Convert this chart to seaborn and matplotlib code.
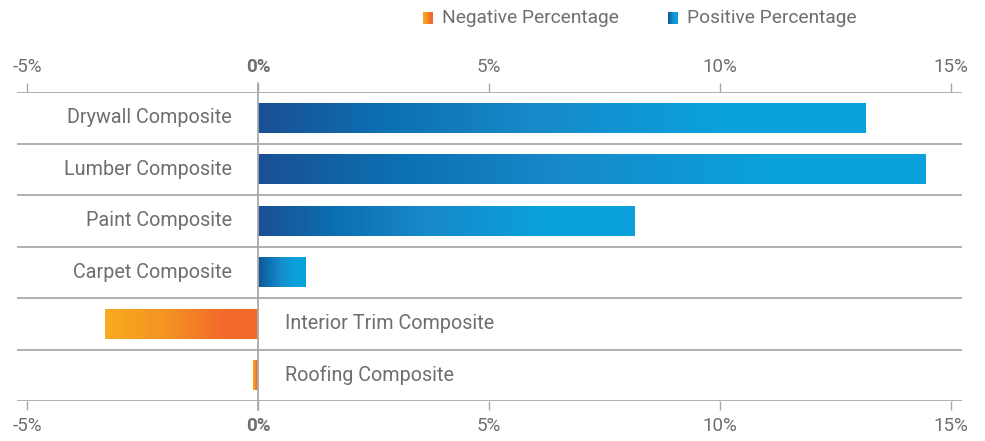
import numpy as np
import pandas as pd
import seaborn as sns
import matplotlib.pyplot as plt
from matplotlib.colors import LinearSegmentedColormap
from matplotlib.patches import Rectangle

categories = ["Drywall Composite", "Lumber Composite", "Paint Composite",
              "Carpet Composite", "Interior Trim Composite", "Roofing Composite"]
values = [13.14, 14.44, 8.14, 1.02, -3.31, -0.10]
tick_vals = [-5, 0, 5, 10, 15]
tick_labels = ["-5%", "0%", "5%", "10%", "15%"]

df = pd.DataFrame({"category": categories, "value": values})

grey = "#6d6e71"
line_grey = "#a7a9ac"
blue_cm = LinearSegmentedColormap.from_list(
    "blue", [(0, "#1b4f95"), (0.2, "#0b6fb0"), (0.45, "#1889c9"), (0.75, "#0aa0dc"), (1, "#0ba1dc")])
orange_cm = LinearSegmentedColormap.from_list(
    "orange", [(0, "#f26a2a"), (0.22, "#f26a2a"), (0.6, "#f59224"), (1, "#f8ac1e")])

sns.set_style("white")
plt.rcParams['font.family'] = ['Roboto', 'DejaVu Sans']
fs = 14.2

fig = plt.figure(figsize=(9.85, 4.41), dpi=100)
ax = fig.add_axes([17/985, 40/441, 945/985, 309/441])

sns.barplot(data=df, x="value", y="category", orient="h", ax=ax, width=0.58, color="white")

# swap the flat bars for gradients
grad = np.linspace(0, 1, 256).reshape(1, -1)
for bar, v in zip(ax.patches, values):
    x0, y0 = bar.get_x(), bar.get_y()
    w, h = bar.get_width(), bar.get_height()
    bar.set_visible(False)
    cmap = blue_cm if v >= 0 else orange_cm
    img = ax.imshow(grad, cmap=cmap, aspect="auto",
                    extent=[x0, x0 + w, y0 + h, y0], zorder=3)
    img.set_clip_path(Rectangle((x0, y0), w, h, transform=ax.transData))

ax.set_xlim(-5.216, 15.24)
ax.set_ylim(5.5, -0.5)

for y in np.arange(-0.5, 6.0, 1.0):
    ax.axhline(y, color=line_grey, lw=1.3, zorder=1)
ax.plot([0, 0], [-0.68, 5.68], color=line_grey, lw=1.3, zorder=4, clip_on=False)

for i, (c, v) in enumerate(zip(categories, values)):
    if v >= 0:
        ax.text(-0.56, i, c, ha="right", va="center", fontsize=fs, color=grey)
    else:
        ax.text(0.58, i, c, ha="left", va="center", fontsize=fs, color=grey)

ax.set_yticks([])
ax.set_ylabel("")
ax.set_xlabel("")
ax.set_xticks(tick_vals)
ax.set_xticklabels(tick_labels)
ax.tick_params(axis="x", top=True, labeltop=True, bottom=True, labelbottom=True,
               direction="out", length=6.5, width=1, color=line_grey,
               labelsize=13.5, labelcolor=grey, pad=5)
for lab in ax.get_xticklabels():
    if lab.get_text() == "0%":
        lab.set_fontweight("bold")
sns.despine(ax=ax, left=True, bottom=True, top=True, right=True)

# legend
def legend_item(x, cmap, reverse, text):
    lax = fig.add_axes([x/985, 1 - 24/441, 10/985, 12/441])
    g = grad[:, ::-1] if reverse else grad
    lax.imshow(g, cmap=cmap, aspect="auto")
    lax.axis("off")
    fig.text((x + 19)/985, 1 - 18/441, text, ha="left", va="center", fontsize=13.8, color=grey)

legend_item(423, orange_cm, True, "Negative Percentage")
legend_item(668, blue_cm, False, "Positive Percentage")

fig.savefig("out.png", dpi=100)
